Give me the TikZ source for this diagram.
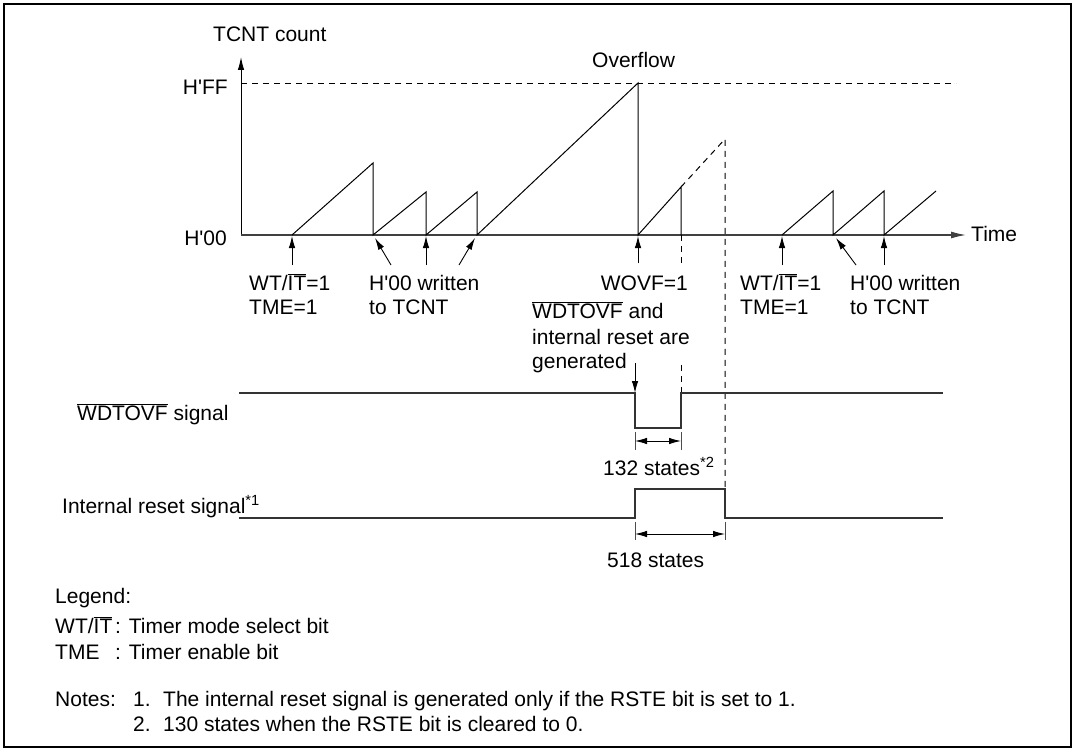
\documentclass[tikz,border=0pt]{standalone}
\usepackage{fontspec}
\setmainfont{Liberation Sans}
\usetikzlibrary{arrows.meta}
\newcommand{\ovl}[1]{\ensuremath{\overline{\hbox{#1}}}}
\newcommand{\q}{\textquotesingle}
\begin{document}
\begin{tikzpicture}[x=1pt,y=-1pt,
  lbl/.style={font=\fontsize{21}{24}\selectfont, inner sep=0pt, anchor=base west},
  lble/.style={lbl, anchor=base east},
  wave/.style={line width=1.2pt, black!80},
  ramp/.style={line width=1pt, black},
  dsh/.style={line width=1pt, dash pattern=on 6pt off 5pt},
  arr/.style={line width=0.9pt, -{Latex[length=12pt,width=6.5pt]}},
  dimarr/.style={line width=0.9pt, {Latex[length=12pt,width=6.5pt]}-{Latex[length=12pt,width=6.5pt]}},
  tick/.style={line width=0.6pt, black!70}]
\useasboundingbox (0,0) rectangle (1076,749);
% frame
\draw[line width=2.5pt] (4,4) rectangle (1071,747);

% axes
\coordinate (O) at (241,235);
\coordinate (Ytip) at (241,57);
\coordinate (Xtip) at (966,235);
\coordinate (FFa) at (241,83);
\coordinate (FFb) at (956,83);
\draw[line width=1pt, -{Latex[length=13pt,width=6.5pt]}] (O) -- (Ytip);
\draw[line width=1.3pt, black!75, -{Latex[length=15pt,width=7pt]}] (O) -- (Xtip);
\draw[dsh, line width=0.8pt] (FFa) -- (FFb);

% count ramps
\coordinate (r0) at (292,235);
\coordinate (p1) at (373,163); \coordinate (b1) at (373,235);
\coordinate (p2) at (426,192); \coordinate (b2) at (426,235);
\coordinate (p3) at (477,192); \coordinate (b3) at (477,235);
\coordinate (p4) at (638,83);  \coordinate (b4) at (638,235);
\coordinate (p5) at (681,187); \coordinate (b5) at (681,235);
\coordinate (p6) at (725,139); \coordinate (b6) at (725,489);
\draw[ramp] (r0) -- (p1) -- (b1) -- (p2) -- (b2) -- (p3) -- (b3) -- (p4) -- (b4) -- (p5) -- (b5);
\draw[dsh] (p5) -- (p6) -- (b6);
\coordinate (s0) at (782,235);
\coordinate (q1) at (833,191); \coordinate (c1) at (833,235);
\coordinate (q2) at (884,191); \coordinate (c2) at (884,235);
\coordinate (q3) at (936,191);
\draw[ramp] (s0) -- (q1) -- (c1) -- (q2) -- (c2) -- (q3);

% dashed guide at end of WDTOVF pulse
\coordinate (g1) at (681,235); \coordinate (g2) at (681,263);
\coordinate (g3) at (681,365); \coordinate (g4) at (681,393);
\draw[dsh] (g1) -- (g2);
\draw[dsh] (g3) -- (g4);

% labels of the count graph
\node[lbl] (tcnt) at (213,41.5) {TCNT count};
\node[lble] (hff) at (228,95) {H\q FF};
\node[lble] (h00) at (227,245) {H\q 00};
\node[lbl] (ovf) at (592,68) {Overflow};
\node[lbl] (time) at (971,241) {Time};

\node[lbl] (wt1) at (249,290) {WT/\ovl{IT}=1};
\node[lbl] (tme1) at (249,314) {TME=1};
\node[lbl] (hw1) at (369,290) {H\q 00 written};
\node[lbl] (tt1) at (369,314) {to TCNT};
\node[lble] (wovf) at (688,290) {WOVF=1};
\node[lbl] (wd1) at (532,318) {\ovl{WDTOVF} and};
\node[lbl] (wd2) at (532,344) {internal reset are};
\node[lbl] (wd3) at (532,368) {generated};
\node[lbl] (wt2) at (740,290) {WT/\ovl{IT}=1};
\node[lbl] (tme2) at (740,314) {TME=1};
\node[lbl] (hw2) at (850,290) {H\q 00 written};
\node[lbl] (tt2) at (850,314) {to TCNT};

% pointer arrows
\coordinate (a1s) at (292,265); \coordinate (a1e) at (292,236);
\coordinate (a2s) at (391,265); \coordinate (a2e) at (375,238);
\coordinate (a3s) at (426,265); \coordinate (a3e) at (426,236);
\coordinate (a4s) at (459,265); \coordinate (a4e) at (475,238);
\coordinate (a5s) at (638,263); \coordinate (a5e) at (638,236);
\coordinate (a6s) at (782,265); \coordinate (a6e) at (782,236);
\coordinate (a7s) at (856,265); \coordinate (a7e) at (836,238);
\coordinate (a8s) at (884,265); \coordinate (a8e) at (884,236);
\coordinate (a9s) at (635,363); \coordinate (a9e) at (635,393);
\foreach \i in {1,...,9} {\draw[arr] (a\i s) -- (a\i e);}

% signals
\node[lbl] (wdsig) at (77,420) {\ovl{WDTOVF} signal};
\node[lbl] (rsig) at (62,513) {Internal reset signal\textsuperscript{*1}};
\draw[wave] (239,393) -- (635,393) -- (635,428) -- (681,428) -- (681,393) -- (943,393);
\draw[wave] (239,518) -- (635,518) -- (635,489) -- (725,489) -- (725,518) -- (943,518);

% dimensions
\coordinate (d1a) at (635,441); \coordinate (d1b) at (681,441);
\draw[tick] (635,432) -- (635,450);
\draw[tick] (681,432) -- (681,450);
\draw[dimarr] (d1a) -- (d1b);
\node[lbl] (s132) at (603,475) {132 states\textsuperscript{*2}};
\coordinate (d2a) at (635,534); \coordinate (d2b) at (725,534);
\draw[tick] (635,522) -- (635,540);
\draw[tick] (725,522) -- (725,540);
\draw[dimarr] (d2a) -- (d2b);
\node[lbl] (s518) at (607,567) {518 states};

% legend and notes
\node[lbl] (leg) at (55,603) {Legend:};
\node[lbl] (lg1a) at (55,633) {WT/\ovl{IT}};
\node[lbl] (lg1b) at (115,633) {: Timer mode select bit};
\node[lbl] (lg2a) at (55,659) {TME};
\node[lbl] (lg2b) at (115,659) {: Timer enable bit};
\node[lbl] (notes) at (55,706) {Notes:};
\node[lbl] (n1) at (133,706) {1.};
\node[lbl] (n1t) at (163,706) {The internal reset signal is generated only if the RSTE bit is set to 1.};
\node[lbl] (n2) at (133,731) {2.};
\node[lbl] (n2t) at (163,731) {130 states when the RSTE bit is cleared to 0.};
\end{tikzpicture}
\end{document}
